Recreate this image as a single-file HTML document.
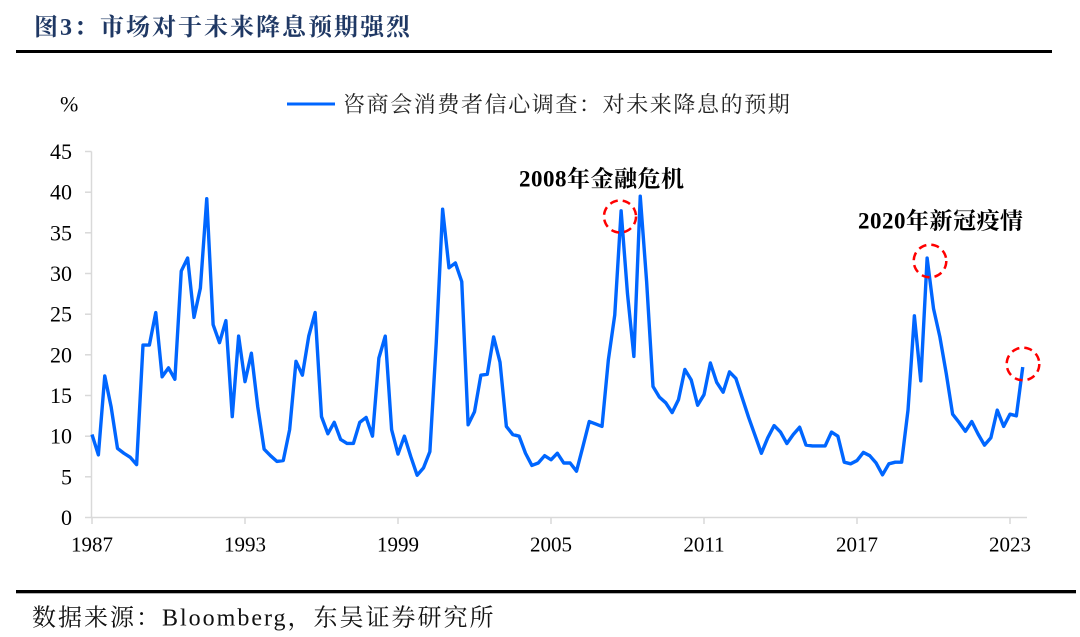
<!DOCTYPE html>
<html>
<head>
<meta charset="utf-8">
<style>
  html,body{margin:0;padding:0;background:#fff;}
  svg{display:block;}
</style>
</head>
<body>
<svg width="1080" height="637" viewBox="0 0 1080 637" xmlns="http://www.w3.org/2000/svg">
  <rect width="1080" height="637" fill="#fff"/>

  <!-- Title -->
  <text x="34" y="35" font-family="Liberation Serif, Noto Serif CJK SC, serif" font-weight="bold" font-size="24" letter-spacing="2" fill="#1f3864">图3：市场对于未来降息预期强烈</text>
  <rect x="16" y="50" width="1036" height="3" fill="#000"/>

  <!-- % unit -->
  <text x="60" y="111.5" font-family="Liberation Serif, serif" font-size="22" fill="#000">%</text>

  <!-- Legend -->
  <line x1="287" y1="104" x2="335" y2="104" stroke="#0066ff" stroke-width="3"/>
  <text x="343" y="112" font-family="Liberation Serif, Noto Serif CJK SC, serif" font-size="22" letter-spacing="1.6" fill="#222">咨商会消费者信心调查：对未来降息的预期</text>

  <!-- Axes -->
  <g stroke="#d9d9d9" stroke-width="1.5" fill="none">
    <line x1="91.5" y1="151.5" x2="91.5" y2="517.5"/>
    <line x1="91.5" y1="517.5" x2="1027" y2="517.5"/>
    <line x1="85" y1="151.5" x2="91.5" y2="151.5"/>
    <line x1="85" y1="192.2" x2="91.5" y2="192.2"/>
    <line x1="85" y1="232.8" x2="91.5" y2="232.8"/>
    <line x1="85" y1="273.5" x2="91.5" y2="273.5"/>
    <line x1="85" y1="314.2" x2="91.5" y2="314.2"/>
    <line x1="85" y1="354.8" x2="91.5" y2="354.8"/>
    <line x1="85" y1="395.5" x2="91.5" y2="395.5"/>
    <line x1="85" y1="436.2" x2="91.5" y2="436.2"/>
    <line x1="85" y1="476.8" x2="91.5" y2="476.8"/>
    <line x1="85" y1="517.5" x2="91.5" y2="517.5"/>
    <line x1="92" y1="517.5" x2="92" y2="524"/>
    <line x1="245" y1="517.5" x2="245" y2="524"/>
    <line x1="398" y1="517.5" x2="398" y2="524"/>
    <line x1="551" y1="517.5" x2="551" y2="524"/>
    <line x1="704" y1="517.5" x2="704" y2="524"/>
    <line x1="857" y1="517.5" x2="857" y2="524"/>
    <line x1="1010" y1="517.5" x2="1010" y2="524"/>
  </g>

  <!-- Y labels -->
  <g font-family="Liberation Serif, serif" font-size="22" fill="#000" text-anchor="end">
    <text x="72" y="159">45</text>
    <text x="72" y="199.7">40</text>
    <text x="72" y="240.3">35</text>
    <text x="72" y="281">30</text>
    <text x="72" y="321.7">25</text>
    <text x="72" y="362.3">20</text>
    <text x="72" y="403">15</text>
    <text x="72" y="443.7">10</text>
    <text x="72" y="484.3">5</text>
    <text x="72" y="525">0</text>
  </g>

  <!-- X labels -->
  <g font-family="Liberation Serif, serif" font-size="21" fill="#000" text-anchor="middle">
    <text x="92" y="551.5">1987</text>
    <text x="245" y="551.5">1993</text>
    <text x="398" y="551.5">1999</text>
    <text x="551" y="551.5">2005</text>
    <text x="704" y="551.5">2011</text>
    <text x="857" y="551.5">2017</text>
    <text x="1010" y="551.5">2023</text>
  </g>

  <!-- Series -->
  <g transform="translate(92,517.5) scale(6.375,-8.1333)">
    <polyline fill="none" stroke="#0066ff" stroke-width="3.4" stroke-linejoin="round" vector-effect="non-scaling-stroke"
      points="0,10.2 1,7.7 2,17.4 3,13.6 4,8.5 5,7.9 6,7.4 7,6.5 8,21.2 9,21.2 10,25.2 11,17.3 12,18.4 13,17.0 14,30.3 15,31.9 16,24.6 17,28.2 18,39.2 19,23.7 20,21.5 21,24.2 22,12.4 23,22.3 24,16.7 25,20.2 26,13.6 27,8.4 28,7.6 29,6.9 30,7.0 31,10.8 32,19.2 33,17.5 34,22.3 35,25.2 36,12.4 37,10.3 38,11.7 39,9.6 40,9.1 41,9.1 42,11.7 43,12.3 44,10.0 45,19.6 46,22.3 47,10.8 48,7.8 49,10.0 50,7.5 51,5.2 52,6.1 53,8.1 54,21.5 55,37.9 56,30.7 57,31.3 58,29.0 59,11.4 60,13.0 61,17.5 62,17.6 63,22.2 64,19.1 65,11.2 66,10.2 67,10.0 68,7.9 69,6.4 70,6.7 71,7.6 72,7.1 73,7.9 74,6.7 75,6.7 76,5.7 77,8.7 78,11.8 79,11.5 80,11.2 81,19.4 82,24.9 83,37.7 84,27.5 85,19.8 86,39.5 87,29.0 88,16.1 89,14.8 90,14.1 91,12.9 92,14.5 93,18.2 94,16.9 95,13.8 96,15.1 97,19.0 98,16.6 99,15.4 100,17.9 101,17.1 102,14.7 103,12.3 104,10.1 105,7.9 106,9.8 107,11.3 108,10.5 109,9.1 110,10.2 111,11.1 112,8.9 113,8.8 114,8.8 115,8.8 116,10.5 117,10.0 118,6.8 119,6.6 120,7.0 121,8.0 122,7.6 123,6.7 124,5.25 125,6.6 126,6.8 127,6.8 128,13.2 129,24.8 130,16.8 131,31.9 132,25.7 133,22.2 134,17.7 135,12.7 136,11.7 137,10.6 138,11.8 139,10.25 140,8.9 141,9.8 142,13.2 143,11.2 144,12.7 145,12.5 146,18.5"/>
  </g>

  <!-- Red dashed circles -->
  <g fill="none" stroke="#ff0000" stroke-width="2.5" stroke-dasharray="8 5">
    <circle cx="620" cy="216.5" r="16"/>
    <circle cx="930" cy="261" r="16.3"/>
    <circle cx="1023" cy="364" r="16.3"/>
  </g>

  <!-- Annotations -->
  <text x="519" y="186.5" font-family="Liberation Serif, Noto Serif CJK SC, serif" font-weight="bold" font-size="23" letter-spacing="0.5" fill="#000">2008年金融危机</text>
  <text x="858" y="228.5" font-family="Liberation Serif, Noto Serif CJK SC, serif" font-weight="bold" font-size="23" letter-spacing="0.5" fill="#000">2020年新冠疫情</text>

  <!-- Footer -->
  <rect x="16" y="590" width="1060" height="3.3" fill="#000"/>
  <text x="32" y="625.5" font-family="Liberation Serif, Noto Serif CJK SC, serif" font-size="24" letter-spacing="2" fill="#111">数据来源：Bloomberg，东吴证券研究所</text>
</svg>
</body>
</html>
